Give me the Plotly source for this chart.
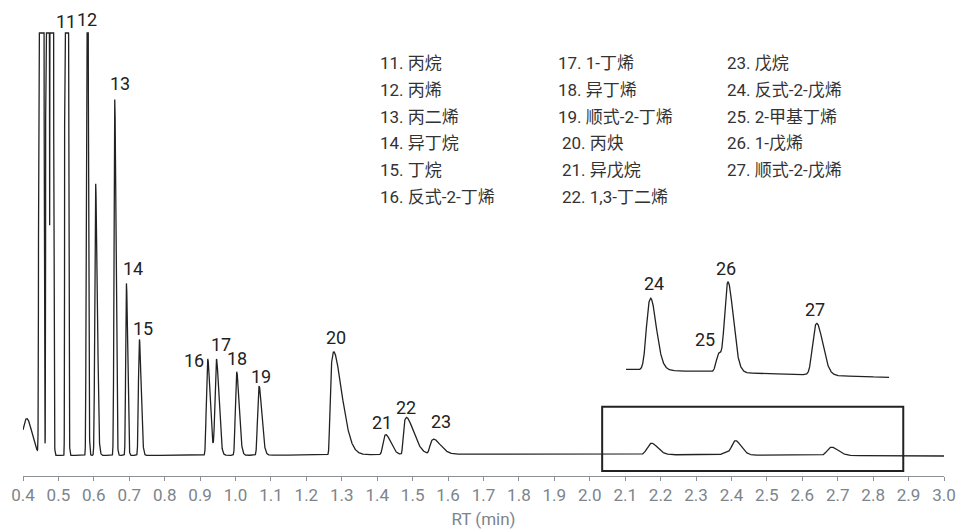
import numpy as np
import plotly.graph_objects as go

# ---------------- data ----------------
# peak table: name, retention time (min), apex height (signal units), left/right width (min), tail (min)
PEAK_NAMES = ["", "", "", "", "11", "12", "", "", "13", "14", "15", "16", "17", "18",
              "19", "20", "21", "22", "23", "24", "25", "26", "27"]
PEAK_RT = [0.4104, 0.4514, 0.4695, 0.4805, 0.5223, 0.5813, 0.6045, 0.6090, 0.6590, 0.6920,
           0.7287, 0.9216, 0.9462, 1.0035, 1.0665, 1.2774, 1.4243, 1.4827, 1.5598,
           2.1746, 2.3830, 2.4123, 2.6830]
PEAK_HEIGHT = [37, 1e5, 1e5, 1e5, 1e5, 1070, 240, 175, 356, 172,
               116, 96, 96, 83, 69, 103, 20, 37, 15,
               11.5, 3.0, 14.0, 8.3]
PEAK_SIGMA_L = [0.012, 0.00215, 0.00163, 0.00136, 0.00137, 0.00166, 0.0020, 0.0022, 0.0017, 0.0017,
                0.0020, 0.0025, 0.0030, 0.0025, 0.0028, 0.0022, 0.0040, 0.0020, 0.0040,
                0.0085, 0.0075, 0.0070, 0.0090]
PEAK_SIGMA_R = [0.015, 0.0025, 0.00157, 0.0013, 0.00146, 0.0019, 0.0022, 0.0018, 0.0030, 0.0030,
                0.0050, 0.0070, 0.0070, 0.0070, 0.0080, 0.0270, 0.0150, 0.0240, 0.0220,
                0.0170, 0.0150, 0.0160, 0.0190]
PEAK_TAU = [0, 0, 0, 0.0008, 0.0008, 0.001, 0, 0.002, 0.001, 0.001,
            0.001, 0.002, 0.002, 0.002, 0.002, 0.004, 0.004, 0.004, 0.005,
            0.008, 0, 0.006, 0.006]

# slow baseline drift (time, signal)
BASE_T = [0.40, 1.00, 1.75, 3.00]
BASE_V = [0.5, 0.7, 2.0, 0.0]

DETECTOR_CAP = 423          # saturated detector level (flat peak tops)
ZOOM_T = [2.035, 2.885]     # region shown enlarged in the inset
INSET_T = [2.099, 2.905]

COMPOUNDS = {
    "11": "丙烷", "12": "丙烯", "13": "丙二烯", "14": "异丁烷", "15": "丁烷",
    "16": "反式-2-丁烯", "17": "1-丁烯", "18": "异丁烯", "19": "顺式-2-丁烯",
    "20": "丙炔", "21": "异戊烷", "22": "1,3-丁二烯", "23": "戊烷",
    "24": "反式-2-戊烯", "25": "2-甲基丁烯", "26": "1-戊烯", "27": "顺式-2-戊烯",
}
LEGEND_COLUMNS = [["11", "12", "13", "14", "15", "16"],
                  ["17", "18", "19", "20", "21", "22"],
                  ["23", "24", "25", "26", "27"]]

# ---------------- build the trace ----------------
DT = 0.00025
t = np.arange(0.4, 3.0 + DT / 2, DT)


def peak_shape(rt, h, sl, sr, tau):
    z = np.where(t < rt, (t - rt) / sl, (t - rt) / sr)
    g = np.exp(-0.5 * z * z)
    if tau > 0:
        n = int(np.ceil(14 * tau / DT))
        k = np.exp(-np.arange(n) * DT / tau)
        g = np.convolve(g, k)[: len(t)]
    g = g / g.max()
    apex = t[np.argmax(g)]
    g = np.interp(t + (apex - rt), t, g, left=0, right=0)
    return h * g


signal = np.interp(t, BASE_T, BASE_V)
for rt, h, sl, sr, tau in zip(PEAK_RT, PEAK_HEIGHT, PEAK_SIGMA_L, PEAK_SIGMA_R, PEAK_TAU):
    signal = signal + peak_shape(rt, h, sl, sr, tau)
main_y = np.minimum(signal, DETECTOR_CAP)

mask = (t >= INSET_T[0]) & (t <= INSET_T[1])

# ---------------- figure ----------------
FONT = "Roboto, 'Noto Sans CJK SC', sans-serif"
INK = "#222222"
GREY = "#7d848b"
W, H = 961, 531
ML, MR, MT, MB = 23, 17, 30, 55
PW, PH = W - ML - MR, H - MT - MB

fig = go.Figure()
fig.add_trace(go.Scatter(x=t, y=main_y, mode="lines", line=dict(color=INK, width=1.3),
                         hoverinfo="skip", showlegend=False))
fig.add_trace(go.Scatter(x=t[mask], y=signal[mask], mode="lines", line=dict(color=INK, width=1.3),
                         xaxis="x2", yaxis="y2", hoverinfo="skip", showlegend=False))


def px_to_paper(px, py):
    return (px - ML) / PW, (H - MB - py) / PH


annotations = []
# peak labels (offsets in pixels from apex)
LABEL_OFFSET = {"11": (0, -12), "12": (0, -14), "13": (5.5, -16), "14": (6.3, -15),
                "15": (3.8, -11), "16": (-13.5, 1.5), "17": (4.3, -15), "18": (0.7, -14),
                "19": (2.2, -9.3), "20": (2, -14), "21": (-4.3, -12.5), "22": (-0.7, -10.3),
                "23": (6.7, -17.5), "24": (3, -14.7), "25": (-13.5, -13.3), "26": (-2.3, -14),
                "27": (-1.9, -13.5)}
INSET_LABELS = {"24", "25", "26", "27"}
for name, rt in zip(PEAK_NAMES, PEAK_RT):
    if not name:
        continue
    i = int(np.argmin(np.abs(t - rt)))
    dx, dy = LABEL_OFFSET[name]
    inset = name in INSET_LABELS
    yv = float(signal[i]) if inset else float(main_y[i])
    annotations.append(dict(x=rt, y=yv, xref="x2" if inset else "x", yref="y2" if inset else "y",
                            text=name, showarrow=False, xanchor="center", yanchor="middle",
                            xshift=dx, yshift=-dy, font=dict(family=FONT, size=18, color=INK)))

# compound list
COL_X = [[378, 378, 378, 378, 378, 378],
         [555.5, 555.5, 555.5, 559.5, 559.5, 559.5],
         [725, 725, 725, 725, 725]]
ROW_Y = [63.3, 90, 116.7, 143.3, 170, 196.7]
for c, col in enumerate(LEGEND_COLUMNS):
    for r, name in enumerate(col):
        xp, yp = px_to_paper(COL_X[c][r], ROW_Y[r])
        annotations.append(dict(x=xp, y=yp, xref="paper", yref="paper",
                                text=f"{name}. {COMPOUNDS[name]}", showarrow=False,
                                xanchor="left", yanchor="middle",
                                font=dict(family=FONT, size=17, color="#333333")))

fig.update_layout(
    width=W, height=H, margin=dict(l=ML, r=MR, t=MT, b=MB, autoexpand=False),
    paper_bgcolor="white", plot_bgcolor="white",
    font=dict(family=FONT, color=GREY),
    xaxis=dict(range=[0.4, 3.0], tick0=0.4, dtick=0.1, tickformat=".1f", automargin=False,
               showgrid=False, zeroline=False, showline=True, linecolor="#8c9197", linewidth=1,
               ticks="outside", ticklen=4, tickcolor="#8c9197", tickwidth=1,
               tickfont=dict(family=FONT, size=17, color=GREY),
               title=dict(text="RT (min)", font=dict(family=FONT, size=17, color=GREY), standoff=8)),
    yaxis=dict(range=[-20, 426], visible=False, fixedrange=True, automargin=False),
    xaxis2=dict(domain=[0.6547, 0.9406], range=INSET_T, visible=False, anchor="y2"),
    yaxis2=dict(domain=[0.1928, 0.4619], range=[-1.87, 17.33], visible=False, anchor="x2"),
    annotations=annotations,
    shapes=[dict(type="rect", xref="x", yref="y", x0=ZOOM_T[0], x1=ZOOM_T[1], y0=-15, y1=49.3,
                 line=dict(color=INK, width=2), fillcolor="rgba(0,0,0,0)")],
)

fig.write_html("out.html", config={"displayModeBar": False},
               post_script="document.body.style.margin='0';document.body.style.overflow='hidden';")
